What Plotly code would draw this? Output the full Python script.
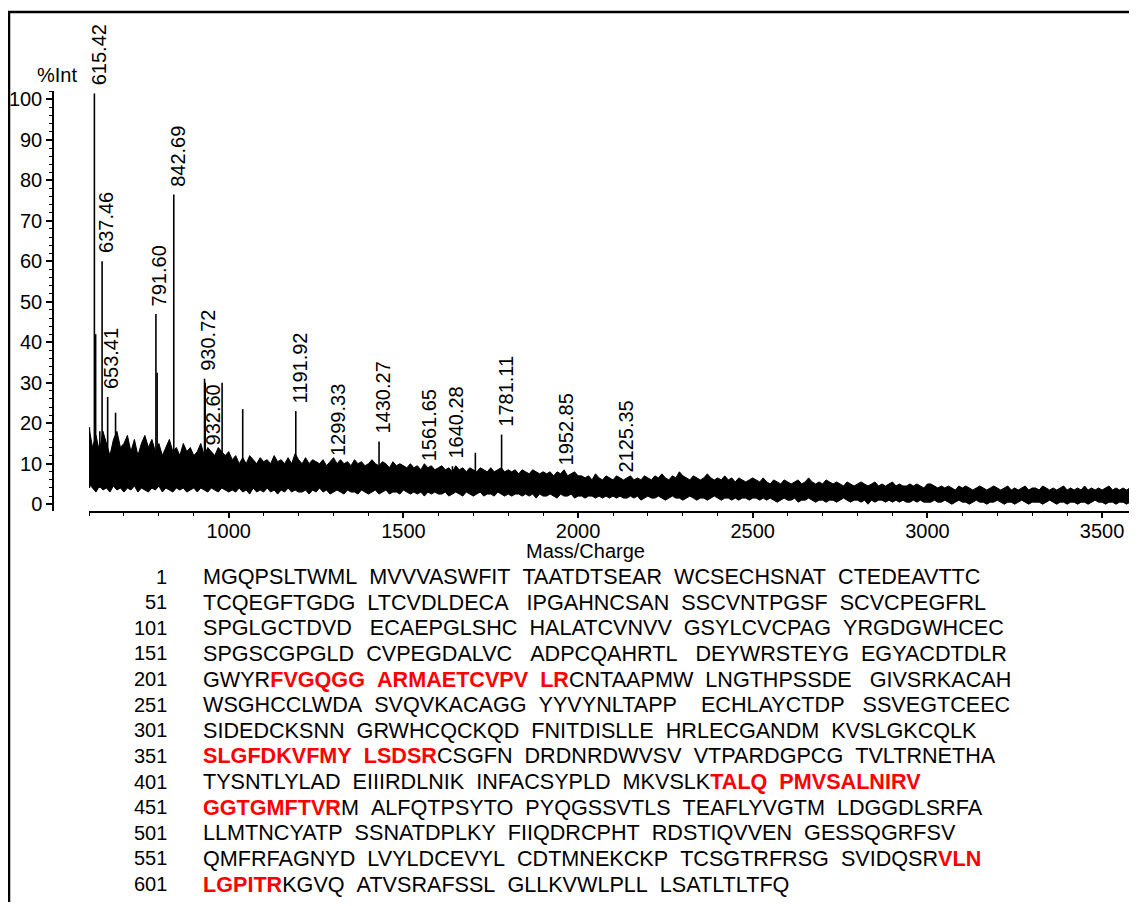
import plotly.graph_objects as go

# The page body adds an 8 px margin, so the figure itself is 1129 x 898.
W, H = 1129, 898
OFF = 8
FONT = "Arial, 'Liberation Sans', sans-serif"

# ---------------- data ----------------
band_mz = list(range(600, 3610, 10))
band_upper = [
    # 600-1000
    19, 14, 17, 13, 18, 15, 12, 16, 18, 14, 15, 17, 13, 16, 12, 15, 17, 14, 16, 13,
    15, 12, 14, 16, 13, 14, 12, 15, 13, 14, 12, 13, 15, 12, 14, 13, 12, 14, 13, 12, 13,
    # 1010-1500
    11, 12, 10, 11.5, 10, 12, 11, 10, 11.5, 10.5,
    11, 10, 12, 10.5, 11, 10, 11.5, 10, 12.5, 11,
    10, 11.5, 10, 11, 10.5, 10, 11, 9.5, 10.5, 11.5,
    10, 11, 10, 10.5, 9.5, 11, 10, 10.5, 9.5, 10,
    11, 10, 9.5, 10.5, 10, 9, 10.5, 9.5, 10, 9.5,
    # 1510-2000
    9, 10, 9, 9.5, 8.5, 10, 9, 9.5, 8.5, 9,
    9.5, 8.5, 9, 8, 9.5, 8.5, 9, 8, 9, 8.5,
    8, 9, 8.5, 8, 9, 8, 8.5, 9, 8, 8.5,
    8, 8.5, 7.5, 8.5, 8, 7.5, 8.5, 8, 7.5, 8,
    7.5, 8, 7, 8, 7.5, 8.5, 7, 7.5, 8, 7,
    # 2010-2500
    7, 6.5, 7, 6, 7.5, 6.5, 6, 7, 6.5, 6,
    7, 6.5, 6, 6.5, 7, 6, 6.5, 6, 7, 6.5,
    6, 7, 6.5, 7.5, 6.5, 6, 7, 6.5, 8, 7,
    6.5, 6, 7, 6.5, 6, 6.5, 7.5, 6.5, 6, 6.5,
    6, 7, 6, 6.5, 5.5, 6.5, 6, 5.5, 6, 6.5,
    # 2510-3000
    6, 5.5, 6.5, 5.5, 5, 6, 5.5, 5, 6, 5.5,
    5, 5.5, 6, 5, 5.5, 6.5, 5.5, 5, 5.5, 5,
    6, 5.5, 5, 5.5, 5, 4.5, 5.5, 5, 4.5, 5,
    5.5, 5, 4.5, 5, 5.5, 4.5, 5, 4.5, 5, 5.5,
    4.5, 5, 4.5, 4.5, 5, 4.5, 5, 4.5, 4, 5,
    # 3010-3600
    5, 4.5, 4, 4.5, 4, 4.5, 4, 3.5, 4.5, 4,
    4.5, 4, 3.5, 4, 4.5, 4, 3.5, 4, 4.5, 4,
    3.5, 4, 4.5, 3.5, 4, 3.5, 4, 4.5, 3.5, 4,
    4, 3.5, 4.5, 4, 3.5, 4, 3.5, 4, 4.5, 3.5,
    4, 3.5, 4, 3.5, 4.5, 3.5, 4, 3.5, 4, 3.5,
    4, 4.5, 3.5, 4, 3.5, 4, 3.5, 4, 3.5, 4,
]
band_lower = [
    # 600-1000
    5, 4, 3, 4.5, 3.5, 4, 3, 4.5, 3.5, 4, 3, 4, 3.5, 4.5, 3, 4, 3.5, 3, 4, 3.5,
    4.5, 3, 4, 3.5, 3, 4, 3.5, 4, 3, 3.5, 4, 3, 4, 3.5, 3, 4, 3.5, 3, 4, 3.5, 3,
    # 1010-1500
    3.5, 3, 4, 3, 3.5, 2.5, 4, 3, 3.5, 3,
    4, 3, 3.5, 2.5, 3.5, 3, 4, 3, 3.5, 3,
    3, 3.5, 2.5, 3.5, 3, 4, 3, 3.5, 2.5, 3,
    3.5, 3, 2.5, 3.5, 3, 3, 2.5, 3.5, 3, 2.5,
    3, 3.5, 2.5, 3, 3.5, 2.5, 3, 3, 2.5, 3.5,
    # 1510-2000
    3, 2.5, 3, 2.5, 3, 2, 3, 2.5, 3, 2.5,
    2.5, 3, 2, 2.5, 3, 2.5, 2, 3, 2.5, 2,
    2.5, 3, 2, 2.5, 2.5, 2, 3, 2.5, 2, 2.5,
    2, 2.5, 2.5, 2, 2.5, 2, 2.5, 1.5, 2.5, 2,
    2, 2.5, 2, 1.5, 2.5, 2, 2, 2.5, 1.5, 2,
    # 2010-2500
    2, 1.5, 2, 2, 1.5, 2, 1.5, 2, 1.5, 2,
    1.5, 2, 1.5, 1.5, 2, 1.5, 2, 1, 1.5, 2,
    1.5, 1.5, 2, 1.5, 1, 1.5, 2, 1.5, 1.5, 1,
    1.5, 2, 1.5, 1, 1.5, 1.5, 1, 1.5, 2, 1.5,
    1, 1.5, 1.5, 1, 1.5, 1, 1.5, 1.5, 1, 1.5,
    # 2510-3000
    1.5, 1, 1.5, 1, 1.5, 1, 0.5, 1, 1.5, 1,
    1, 1.5, 0.5, 1, 1, 1.5, 1, 0.5, 1, 1,
    0.5, 1, 1, 0.5, 1, 1.5, 1, 0.5, 1, 1,
    0.5, 1, 0, 1, 0.5, 1, 1, 0.5, 1, 0.5,
    1, 0.5, 1, 0.5, 0.5, 1, 0.5, 1, 0.5, 0.5,
    # 3010-3600
    0.5, 1, 0.5, 0.5, 1, 0.5, 0, 0.5, 1, 0.5,
    0.5, 0, 0.5, 1, 0.5, 0.5, 0, 0.5, 0.5, 1,
    0.5, 0, 0.5, 0.5, 0, 0.5, 1, 0.5, 0, 0.5,
    0.5, 0.5, 0, 0.5, 1, 0.5, 0, 0.5, 0.5, 0,
    0.5, 0.5, 0, 0.5, 0.5, 0, 0.5, 1, 0.5, 0.5,
    0, 0.5, 0.5, 0, 0.5, 0.5, 0, 0.5, 0.5, 0.5,
]

label_mz = [615.42, 637.46, 653.41, 791.60, 842.69, 930.72, 1191.92, 1299.33,
            1430.27, 1561.65, 1640.28, 1781.11, 1952.85, 2125.35]
label_int = [101.5, 60, 26.5, 47, 76.5, 31, 23, 10, 15.5, 8.6, 9.4, 17.2, 7.5, 5.8]

# label drawn below, to the right of 930.72
low_label_mz = [932.60]
low_label_int = [30]

other_mz = [601, 619, 631, 676, 795, 981, 1040, 1706]
other_int = [19, 42, 18, 22.6, 32.5, 30, 23.5, 12.7]

x_ticks = [1000, 1500, 2000, 2500, 3000, 3500]
y_ticks = [0, 10, 20, 30, 40, 50, 60, 70, 80, 90, 100]

seq_numbers = [1, 51, 101, 151, 201, 251, 301, 351, 401, 451, 501, 551, 601]
seq_rows = [
    "MGQPSLTWML  MVVVASWFIT  TAATDTSEAR  WCSECHSNAT  CTEDEAVTTC",
    "TCQEGFTGDG  LTCVDLDECA   IPGAHNCSAN  SSCVNTPGSF  SCVCPEGFRL",
    "SPGLGCTDVD   ECAEPGLSHC  HALATCVNVV  GSYLCVCPAG  YRGDGWHCEC",
    "SPGSCGPGLD  CVPEGDALVC   ADPCQAHRTL   DEYWRSTEYG  EGYACDTDLR",
    "GWYR[FVGQGG  ARMAETCVPV  LR]CNTAAPMW  LNGTHPSSDE   GIVSRKACAH",
    "WSGHCCLWDA  SVQVKACAGG  YYVYNLTAPP    ECHLAYCTDP   SSVEGTCEEC",
    "SIDEDCKSNN  GRWHCQCKQD  FNITDISLLE  HRLECGANDM  KVSLGKCQLK",
    "[SLGFDKVFMY  LSDSR]CSGFN  DRDNRDWVSV  VTPARDGPCG  TVLTRNETHA",
    "TYSNTLYLAD  EIIIRDLNIK  INFACSYPLD  MKVSLK[TALQ  PMVSALNIRV]",
    "[GGTGMFTVR]M  ALFQTPSYTO  PYQGSSVTLS  TEAFLYVGTM  LDGGDLSRFA",
    "LLMTNCYATP  SSNATDPLKY  FIIQDRCPHT  RDSTIQVVEN  GESSQGRFSV",
    "QMFRFAGNYD  LVYLDCEVYL  CDTMNEKCKP  TCSGTRFRSG  SVIDQSR[VLN]",
    "[LGPITR]KGVQ  ATVSRAFSSL  GLLKVWLPLL  LSATLTLTFQ",
]

# ---------------- helpers (screen px -> paper) ----------------
def px(xp):
    return (xp - OFF) / W

def py(yp):
    return 1 - (yp - OFF) / H

fig = go.Figure()
fig.add_trace(go.Scatter(x=band_mz, y=band_lower, mode="lines",
                         line=dict(color="black", width=1), hoverinfo="skip"))
fig.add_trace(go.Scatter(x=band_mz, y=band_upper, mode="lines", fill="tonexty",
                         fillcolor="black", line=dict(color="black", width=1),
                         hoverinfo="skip"))

sx, sy = [], []
pk = list(zip(label_mz, label_int)) + list(zip(low_label_mz, low_label_int)) + list(zip(other_mz, other_int))
for m, v in pk:
    sx += [m, m, None]
    sy += [4, v, None]
fig.add_trace(go.Scatter(x=sx, y=sy, mode="lines",
                         line=dict(color="black", width=1.6), hoverinfo="skip"))

ann = []
for m, v in zip(label_mz, label_int):
    ann.append(dict(x=m, y=v, xref="x", yref="y", text=f"{m:.2f}", textangle=-90,
                    showarrow=False, xanchor="center", yanchor="bottom",
                    xshift=4, yshift=6, font=dict(size=20, color="black", family=FONT)))
for m, v in zip(low_label_mz, low_label_int):
    ann.append(dict(x=m, y=v, xref="x", yref="y", text=f"{m:.2f}", textangle=-90,
                    showarrow=False, xanchor="center", yanchor="top",
                    xshift=8, yshift=0, font=dict(size=20, color="black", family=FONT)))

ann.append(dict(x=px(57), y=py(73), xref="paper", yref="paper", text="%Int",
                showarrow=False, xanchor="center", yanchor="middle",
                font=dict(size=20, color="black", family=FONT)))
ann.append(dict(x=px(585), y=py(552), xref="paper", yref="paper", text="Mass/Charge",
                showarrow=False, xanchor="center", yanchor="middle",
                font=dict(size=20, color="black", family=FONT)))

y0, dy = 578, 25.83
for i, (n, row) in enumerate(zip(seq_numbers, seq_rows)):
    yy = y0 + i * dy
    ann.append(dict(x=px(169), y=py(yy), xref="paper", yref="paper", text=str(n),
                    showarrow=False, xanchor="right", yanchor="middle",
                    font=dict(size=20, color="black", family=FONT)))
    html = row.replace(" ", "\u00a0")
    html = html.replace("[", "<span style='color:#ff0000'><b>").replace("]", "</b></span>")
    ann.append(dict(x=px(201), y=py(yy), xref="paper", yref="paper", text=html,
                    showarrow=False, xanchor="left", yanchor="middle",
                    font=dict(size=21.6, color="black", family=FONT)))

shapes = [
    dict(type="line", xref="paper", yref="paper", x0=px(9), x1=px(9), y0=0, y1=py(9),
         line=dict(color="black", width=2.5)),
    dict(type="line", xref="paper", yref="paper", x0=px(8), x1=1, y0=py(9), y1=py(9),
         line=dict(color="black", width=2.5)),
]

fig.update_layout(
    width=W, height=H, margin=dict(l=0, r=0, t=0, b=0),
    paper_bgcolor="white", plot_bgcolor="white", showlegend=False,
    annotations=ann, shapes=shapes,
    font=dict(family=FONT, color="black"),
    xaxis=dict(domain=[px(89), 1], range=[600, 3600], anchor="y",
               showline=True, linecolor="black", linewidth=2,
               ticks="outside", ticklen=5, tickwidth=1.5, tickcolor="black",
               tickvals=x_ticks, ticktext=[str(t) for t in x_ticks],
               ticklabelstandoff=-4,
               minor=dict(dtick=100, tick0=0, ticklen=3, tickwidth=1, tickcolor="black", ticks="outside"),
               showgrid=False, zeroline=False, tickfont=dict(size=20, family=FONT)),
    yaxis=dict(domain=[py(512), py(89)], range=[-1.7, 102], anchor="free", position=px(53),
               showline=True, linecolor="black", linewidth=1.5,
               ticks="outside", ticklen=6, tickwidth=1.5, tickcolor="black",
               tickvals=y_ticks, ticktext=[str(t) for t in y_ticks],
               minor=dict(dtick=2, tick0=0, ticklen=3, tickwidth=1, tickcolor="black", ticks="outside"),
               showgrid=False, zeroline=False, tickfont=dict(size=20, family=FONT)),
)

fig.write_html("out.html")
